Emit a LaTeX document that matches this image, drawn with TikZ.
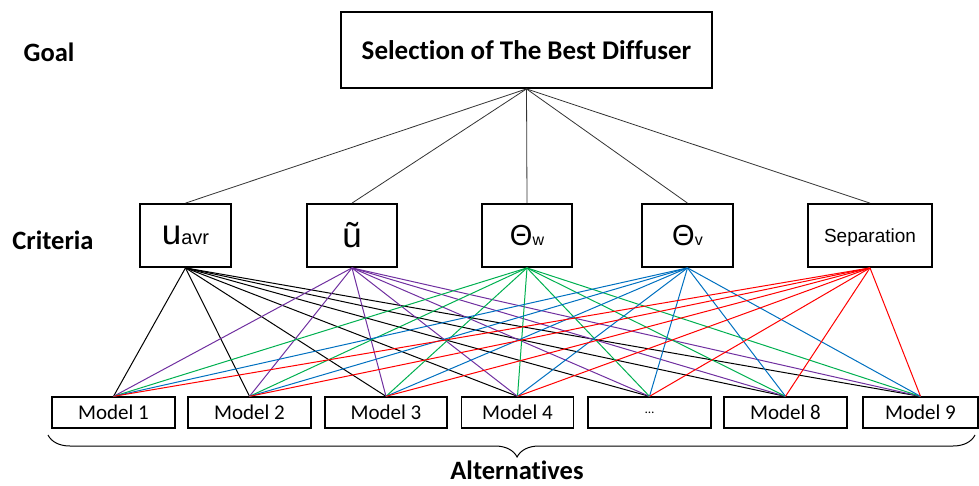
\documentclass[tikz,border=0pt]{standalone}
\usepackage{fontspec}
\setmainfont{Carlito}[Ligatures=CommonOff]
\newfontfamily\arialfont{Liberation Sans}
\usetikzlibrary{decorations.pathreplacing}
\definecolor{critpurple}{HTML}{7030A0}
\definecolor{critgreen}{HTML}{00B050}
\definecolor{critblue}{HTML}{0070C0}
\definecolor{critred}{HTML}{FF0000}

\begin{document}
\begin{tikzpicture}[x=1pt,y=-1pt,semithick,
  goalbox/.style={draw,line width=1.8pt,minimum width=371pt,minimum height=76pt,inner sep=0pt,font=\bfseries\fontsize{27}{30}\selectfont},
  critbox/.style={draw,line width=1.8pt,minimum height=63pt,inner sep=0pt,font=\arialfont},
  modelbox/.style={draw,line width=1.3pt,minimum height=31pt,minimum width=123pt,inner sep=0pt,font=\fontsize{21}{24}\selectfont},
  level/.style={font=\bfseries\fontsize{26.5}{30}\selectfont}]
\tikzset{every edge/.append style={line width=1pt}}
\useasboundingbox (0,0) rectangle (979,485);

% levels
\node[level]	(goallbl)	at (49,52)	{Goal};
\node[level]	(critlbl)	at (53,240)	{Criteria};
\node[level]	(altlbl)	at (517,470)	{Alternatives};

\node[goalbox]	(goal)	at (526.5,50)	{Selection of The Best Diffuser};

\node[critbox,minimum width=91pt]	(uavr)	at (185.5,235.5)	{{\fontsize{35}{40}\selectfont u}{\fontsize{20}{24}\selectfont avr}};
\node[critbox,minimum width=90pt]	(utld)	at (352,235.5)	{{\fontsize{35}{40}\selectfont ũ}};
\node[critbox,minimum width=90pt]	(thw)	at (527,235.5)	{{\fontsize{29}{32}\selectfont Θ}{\fontsize{16}{18}\selectfont w}};
\node[critbox,minimum width=91pt]	(thv)	at (687.5,235.5)	{{\fontsize{29}{32}\selectfont Θ}{\fontsize{16}{18}\selectfont v}};
\node[critbox,minimum width=124pt]	(sep)	at (870,235.5)	{};
\node[font=\arialfont\fontsize{19}{22}\selectfont]	(septxt)	at (870,237.5)	{Separation};

\node[modelbox]	(m1)	at (113.5,412.5)	{Model 1};
\node[modelbox]	(m2)	at (249.5,412.5)	{Model 2};
\node[modelbox,minimum width=122pt]	(m3)	at (386,412.5)	{Model 3};
\node[modelbox,minimum width=112pt]	(m4)	at (517.5,412.5)	{Model 4};
\node[modelbox]	(mdots)	at (649.5,412.5)	{{\fontsize{13}{15}\selectfont …}};
\node[modelbox]	(m8)	at (785.5,412.5)	{Model 8};
\node[modelbox,minimum width=115pt]	(m9)	at (920.5,412.5)	{Model 9};

\path[black!80]	(goal.south)	edge[line width=0.8pt]	(uavr.north)
		edge[line width=0.8pt]	(utld.north)
		edge[line width=0.8pt]	(thw.north)
		edge[line width=0.8pt]	(thv.north)
		edge[line width=0.8pt]	(sep.north);

\path[black]	(uavr.south)	edge	(m1.north)	edge	(m2.north)	edge	(m3.north)
		edge	(m4.north)	edge	(mdots.north)	edge	(m8.north)	edge	(m9.north);

\path[critpurple]	(utld.south)	edge	(m1.north)	edge	(m2.north)	edge	(m3.north)
		edge	(m4.north)	edge	(mdots.north)	edge	(m8.north)	edge	(m9.north);

\path[critgreen]	(thw.south)	edge	(m1.north)	edge	(m2.north)	edge	(m3.north)
		edge	(m4.north)	edge	(mdots.north)	edge	(m8.north)	edge	(m9.north);

\path[critblue]	(thv.south)	edge	(m1.north)	edge	(m2.north)	edge	(m3.north)
		edge	(m4.north)	edge	(mdots.north)	edge	(m8.north)	edge	(m9.north);

\path[critred]	(sep.south)	edge	(m1.north)	edge	(m2.north)	edge	(m3.north)
		edge	(m4.north)	edge	(mdots.north)	edge	(m8.north)	edge	(m9.north);

% brace under the alternatives
\coordinate	(bracel)	at (48,435);
\coordinate	(bracer)	at (975,435);
\draw[decorate,decoration={brace,mirror,amplitude=22pt,aspect=0.506},line width=1pt]	(bracel) -- (bracer);
\end{tikzpicture}
\end{document}
